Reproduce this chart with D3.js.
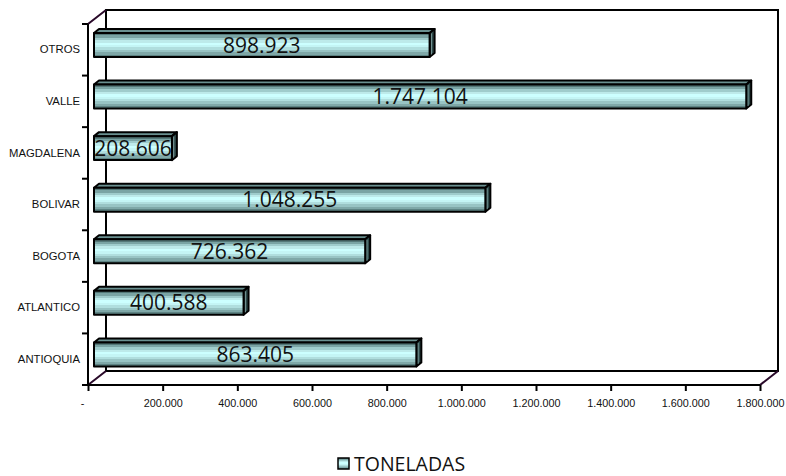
<!DOCTYPE html>
<html>
<head>
<meta charset="utf-8">
<script src="https://cdn.jsdelivr.net/npm/d3@7"></script>
<style>
  html, body { margin: 0; padding: 0; background: #fff; }
  svg { display: block; }
</style>
</head>
<body>
<svg id="chart" width="786" height="476"></svg>
<script>
// Tonnage by department
const categories = ["ANTIOQUIA", "ATLANTICO", "BOGOTA", "BOLIVAR", "MAGDALENA", "VALLE", "OTROS"];
const toneladas = [863405, 400588, 726362, 1048255, 208606, 1747104, 898923];
const xTickValues = [0, 200000, 400000, 600000, 800000, 1000000, 1200000, 1400000, 1600000, 1800000];
const seriesName = "TONELADAS";

const svg = d3.select("#chart");

// Front plane of the 3D frame and its depth offset to the back wall
const front = { left: 88, right: 760, top: 24, bottom: 385 };
const depth = { dx: 18, dy: -14 };
// Bars sit slightly behind the front plane and have their own small depth
const barShift = { dx: 6, dy: -4.8 };
const barDepth = { dx: 5, dy: -4 };

const x = d3.scaleLinear().domain([0, 1800000]).range([front.left, front.right]);
const y = d3.scaleBand()
  .domain(categories.slice().reverse())
  .range([front.top, front.bottom])
  .paddingInner(0.535)
  .paddingOuter(0.2675);

const es = d3.formatLocale({ decimal: ",", thousands: ".", grouping: [3], currency: ["$", ""] });
const fmt = es.format(",.0f");

// Banded gradient for the bar faces (stepped stripes, dark at the edges, pale cyan in the middle)
const defs = svg.append("defs");
const g1 = defs.append("linearGradient").attr("id", "barFace")
  .attr("x1", 0).attr("y1", 0).attr("x2", 0).attr("y2", 1);
const bands = ["#557979", "#7aa4a4", "#9fcccc", "#bdeaea", "#ccffff", "#c4f5f5",
               "#b0dede", "#98c4c4", "#7fa8a8", "#5e8484"];
bands.forEach((c, i) => {
  g1.append("stop").attr("offset", i / bands.length).attr("stop-color", c);
  g1.append("stop").attr("offset", (i + 1) / bands.length).attr("stop-color", c);
});

// Back wall and floor of the frame
const frame = svg.append("g").attr("fill", "none").attr("stroke", "#000").attr("stroke-width", 2);
const bl = front.left + depth.dx, br = front.right + depth.dx;
const bt = front.top + depth.dy, bb = front.bottom + depth.dy;
frame.append("path").attr("d", `M${bl},${bb}V${bt}H${br}V${bb}H${bl}`);
frame.append("path").attr("stroke", "#2a0a2a")
  .attr("d", `M${front.left},${front.bottom}L${bl},${bb}M${front.right},${front.bottom}L${br},${bb}M${front.left},${front.top}L${bl},${bt}`);

// Bars
const bars = svg.append("g");
const rows = categories.map((c, i) => ({ cat: c, val: toneladas[i] }));
rows.forEach(d => {
  const x0 = x(0) + barShift.dx;
  const x1 = x(d.val) + barShift.dx;
  const yt = y(d.cat) + barShift.dy;
  const yb = yt + y.bandwidth();
  const g = bars.append("g").attr("stroke", "#000").attr("stroke-width", 2).attr("stroke-linejoin", "round");
  // top face
  g.append("path").attr("fill", "#6a9090")
    .attr("d", `M${x0},${yt}L${x0 + barDepth.dx},${yt + barDepth.dy}H${x1 + barDepth.dx}L${x1},${yt}Z`);
  // end face
  g.append("path").attr("fill", "#2f4b4b")
    .attr("d", `M${x1},${yt}L${x1 + barDepth.dx},${yt + barDepth.dy}V${yb + barDepth.dy}L${x1},${yb}Z`);
  g.append("path").attr("fill", "none").attr("stroke", "#8fb0b0").attr("stroke-width", 0.8)
    .attr("d", `M${x1 + 1.8},${yt + 0.5}V${yb - 2.5}`);
  // front face
  g.append("rect").attr("x", x0).attr("y", yt).attr("width", x1 - x0).attr("height", yb - yt)
    .attr("fill", "url(#barFace)");
  // value label
  bars.append("text")
    .attr("x", (x0 + x1) / 2).attr("y", (yt + yb) / 2)
    .attr("dy", "0.36em").attr("text-anchor", "middle")
    .attr("font-family", "'Open Sans', sans-serif").attr("font-size", 21)
    .attr("fill", "#111")
    .text(fmt(d.val));
});

// Category axis (front left): line, ticks at band boundaries, labels at band centres
const yAxisG = svg.append("g").attr("transform", `translate(${front.left},0)`);
yAxisG.append("line").attr("x1", 0).attr("x2", 0).attr("y1", front.top).attr("y2", front.bottom)
  .attr("stroke", "#000").attr("stroke-width", 2);
d3.range(categories.length + 1).forEach(i => {
  const yy = front.top + i * y.step();
  yAxisG.append("line").attr("x1", -6).attr("x2", 0).attr("y1", yy).attr("y2", yy)
    .attr("stroke", "#000").attr("stroke-width", 2);
});
const yLab = d3.axisLeft(y).tickSize(0).tickPadding(8);
const yl = svg.append("g").attr("transform", `translate(${front.left},0)`).call(yLab);
yl.select(".domain").remove();
yl.selectAll("text")
  .attr("font-family", "'Liberation Sans', Arial, sans-serif").attr("font-size", 11.3).attr("fill", "#111");

// Value axis (front bottom)
const xAxis = d3.axisBottom(x).tickValues(xTickValues).tickSize(6).tickPadding(8)
  .tickFormat(v => v === 0 ? "-" : fmt(v));
const xa = svg.append("g").attr("transform", `translate(0,${front.bottom})`).call(xAxis);
xa.select(".domain").attr("stroke", "#000").attr("stroke-width", 2).attr("d", `M${front.left},0H${front.right}`);
xa.selectAll(".tick line").attr("stroke", "#000").attr("stroke-width", 2);
xa.selectAll("text").attr("font-family", "'Liberation Sans', Arial, sans-serif").attr("font-size", 10.8).attr("fill", "#111");
xa.selectAll(".tick").filter(v => v === 0).select("text").attr("x", -6);

// Legend
const leg = svg.append("g").attr("transform", "translate(338,458)");
leg.append("rect").attr("width", 11).attr("height", 11).attr("fill", "url(#barFace)")
  .attr("stroke", "#000").attr("stroke-width", 1.5);
leg.append("text").attr("x", 16).attr("y", 13)
  .attr("font-family", "'Open Sans', sans-serif").attr("font-size", 19.5).attr("fill", "#111")
  .text(seriesName);
</script>
</body>
</html>
